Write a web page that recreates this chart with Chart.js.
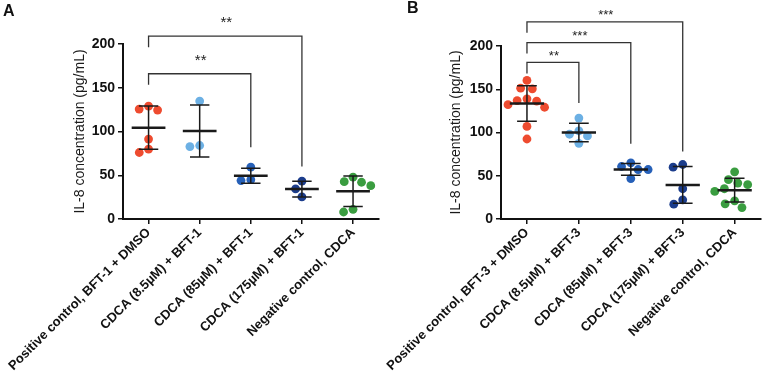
<!DOCTYPE html>
<html>
<head>
<meta charset="utf-8">
<title>IL-8 concentration</title>
<script src="https://cdn.jsdelivr.net/npm/chart.js"></script>
<style>
  body { margin:0; background:#fff; }
  #wrap { position:relative; width:765px; height:378px; overflow:hidden; }
  #wrap canvas { position:absolute; top:0; }
  .tag { position:absolute; font:bold 16px "Liberation Sans", Arial, sans-serif; color:#111; }
</style>
</head>
<body>
<div id="wrap">
  <canvas id="chartA" width="383" height="378" style="left:0"></canvas>
  <canvas id="chartB" width="382" height="378" style="left:383px"></canvas>
  <div class="tag" style="left:3px;top:2px">A</div>
  <div class="tag" style="left:407px;top:-1px">B</div>
</div>
<script>
// categories
var catsA = ["Positive control, BFT-1 + DMSO", "CDCA (8.5µM) + BFT-1", "CDCA (85µM) + BFT-1", "CDCA (175µM) + BFT-1", "Negative control, CDCA"];
var catsB = ["Positive control, BFT-3 + DMSO", "CDCA (8.5µM) + BFT-3", "CDCA (85µM) + BFT-3", "CDCA (175µM) + BFT-3", "Negative control, CDCA"];

// IL-8 (pg/mL), panel A
var posA    = [129, 125.6, 124.5, 91.3, 79.8, 76];
var cdca8A  = [134.8, 84, 82.8];
var cdca85A = [59.2, 45, 43.9];
var cdca175A = [43.2, 34.4, 25.2];
var negA    = [47.8, 42.7, 42, 38.1, 11.1, 8];

// IL-8 (pg/mL), panel B
var posB    = [160.2, 151.3, 150.5, 138.9, 136.9, 136.2, 132.2, 129.2, 107, 92.5];
var cdca8B  = [116.7, 101.9, 98, 96, 87.5];
var cdca85B = [65, 60.7, 57.2, 57.2, 46.7];
var cdca175B = [63, 59.9, 35, 22.2, 17.1];
var negB    = [54.5, 45.5, 41.6, 39.7, 35, 31.9, 21, 17.5, 13.2];

var yTicks = [0, 50, 100, 150, 200];

// significance brackets: group from -> group to, bar level, end of drop line
var brFromA = [0, 0], brToA = [3, 2], brLevelA = [209, 166], brEndA = [60, 82], brStarsA = ["**", "**"];
var brFromB = [0, 0, 0], brToB = [3, 2, 1], brLevelB = [228, 204, 181], brEndB = [78, 87, 134], brStarsB = ["***", "***", "**"];

var colors = ["#ee4b2f", "#6cb0e4", "#2660b8", "#1c3d8c", "#3a9d40"];

Chart.defaults.font.family = '"Liberation Sans", Arial, sans-serif';
Chart.defaults.color = "#111";

// simple beeswarm so that dots don't overlap (sizes in px)
var DOT = 10, PX_CAT = 52, PX_UNIT = 0.87;
function swarm(vals){
  var placed = [];
  return vals.map(function(v){
    var y = v * PX_UNIT;
    var cands = [0];
    placed.forEach(function(p){
      var dy = Math.abs(p.y - y);
      if (dy < DOT){ var dx = Math.sqrt(DOT*DOT - dy*dy); cands.push(p.x + dx, p.x - dx); }
    });
    cands.sort(function(a,b){ return Math.abs(a) - Math.abs(b) || a - b; });
    var x = cands.find(function(c){
      return placed.every(function(p){ return Math.hypot(p.x - c, p.y - y) >= DOT - 0.01; });
    });
    placed.push({x:x, y:y});
    return x / PX_CAT;
  });
}

var meanSd = {
  id: "meanSd",
  afterDatasetsDraw: function(chart){
    var ctx = chart.ctx, xs = chart.scales.x, ys = chart.scales.y;
    ctx.save();
    ctx.strokeStyle = "#1a1a1a";
    chart.data.datasets.forEach(function(ds, g){
      var v = ds.data.map(function(d){ return d.y; });
      var m = v.reduce(function(a,b){ return a+b; }, 0) / v.length;
      var sd = Math.sqrt(v.reduce(function(a,b){ return a + (b-m)*(b-m); }, 0) / (v.length - 1));
      var xc = xs.getPixelForValue(g), ym = ys.getPixelForValue(m);
      var yt = ys.getPixelForValue(m + sd), yb = ys.getPixelForValue(m - sd);
      var half = xs.getPixelForValue(g + 0.33) - xc, cap = xs.getPixelForValue(g + 0.19) - xc;
      ctx.lineWidth = 1.5;
      ctx.beginPath();
      ctx.moveTo(xc, yt); ctx.lineTo(xc, yb);
      ctx.moveTo(xc - cap, yt); ctx.lineTo(xc + cap, yt);
      ctx.moveTo(xc - cap, yb); ctx.lineTo(xc + cap, yb);
      ctx.stroke();
      ctx.lineWidth = 2.5;
      ctx.beginPath();
      ctx.moveTo(xc - half, ym); ctx.lineTo(xc + half, ym);
      ctx.stroke();
    });
    ctx.restore();
  }
};

var brackets = {
  id: "brackets",
  afterDraw: function(chart, args, o){
    var ctx = chart.ctx, xs = chart.scales.x, ys = chart.scales.y;
    ctx.save();
    ctx.strokeStyle = "#333";
    ctx.lineWidth = 1.3;
    ctx.fillStyle = "#222";
    ctx.font = o.starSize + 'px "Liberation Sans", Arial, sans-serif';
    ctx.textAlign = "center";
    ctx.textBaseline = "alphabetic";
    o.from.forEach(function(f, i){
      var x1 = xs.getPixelForValue(f), x2 = xs.getPixelForValue(o.to[i]);
      var y = ys.getPixelForValue(o.level[i]), ye = ys.getPixelForValue(o.end[i]);
      ctx.beginPath();
      ctx.moveTo(x1, y + 11); ctx.lineTo(x1, y); ctx.lineTo(x2, y); ctx.lineTo(x2, ye);
      ctx.stroke();
      ctx.fillText(o.stars[i], (x1 + x2) / 2 + 1, y - o.gap);
    });
    ctx.restore();
  }
};

function makeChart(id, cats, groups, br, lay){
  var datasets = groups.map(function(vals, g){
    var off = swarm(vals);
    return {
      data: vals.map(function(v, i){ return {x: g + off[i], y: v}; }),
      backgroundColor: colors[g],
      borderWidth: 0,
      pointRadius: 4.4
    };
  });
  return new Chart(document.getElementById(id).getContext("2d"), {
    type: "scatter",
    data: { datasets: datasets },
    options: {
      responsive: false,
      animation: false,
      layout: { padding: { left: lay.left, top: lay.top, right: lay.right, bottom: 0 } },
      plugins: { legend: {display:false}, tooltip: {enabled:false}, brackets: br },
      scales: {
        x: {
          type: "linear", min: -0.5, max: 4.5,
          afterBuildTicks: function(s){ s.ticks = cats.map(function(c, i){ return {value: i}; }); },
          afterFit: function(s){ s.height = 159; s.paddingLeft = 0; s.paddingRight = 0; },
          grid: { drawOnChartArea: false, tickLength: 5, color: "#111", lineWidth: 1.5 },
          border: { color: "#111", width: 2 },
          ticks: {
            autoSkip: false, minRotation: 45, maxRotation: 45, padding: 1, color: "#111",
            font: { size: 13, weight: "bold" },
            callback: function(v, i){ return cats[i]; }
          }
        },
        y: {
          min: 0, max: 200,
          afterBuildTicks: function(s){ s.ticks = yTicks.map(function(t){ return {value: t}; }); },
          afterFit: function(s){ s.width = lay.yw; s.paddingTop = 0; s.paddingBottom = 0; },
          grid: { drawOnChartArea: false, tickLength: 5, color: "#111", lineWidth: 1.5 },
          border: { color: "#111", width: 2 },
          ticks: { padding: 3, color: "#111", font: { size: 14, weight: "bold" } },
          title: { display: true, text: "IL-8 concentration (pg/mL)", color: "#1a1a1a", padding: 0, font: { size: 14 } }
        }
      }
    },
    plugins: [meanSd, brackets]
  });
}

makeChart("chartA", catsA, [posA, cdca8A, cdca85A, cdca175A, negA],
  { from: brFromA, to: brToA, level: brLevelA, end: brEndA, stars: brStarsA, starSize: 15, gap: 9 },
  { left: 72, yw: 51, top: 44, right: 2 });

makeChart("chartB", catsB, [posB, cdca8B, cdca85B, cdca175B, negB],
  { from: brFromB, to: brToB, level: brLevelB, end: brEndB, stars: brStarsB, starSize: 13, gap: 2.5 },
  { left: 65, yw: 53, top: 46, right: 4 });
</script>
</body>
</html>
